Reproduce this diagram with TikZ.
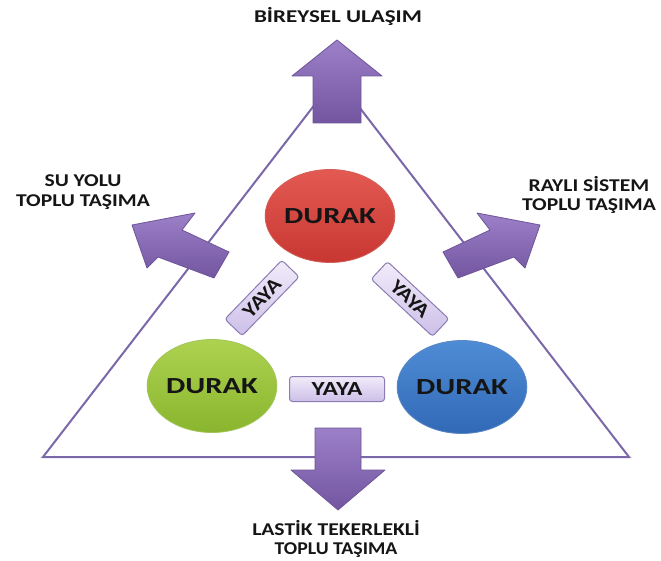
\documentclass[tikz,border=0pt]{standalone}
\usepackage{fontspec}
\setmainfont{Carlito}
\usetikzlibrary{shapes.geometric}
\definecolor{triline}{HTML}{7A68A8}
\definecolor{arrtop}{HTML}{9C80C8}
\definecolor{arrbot}{HTML}{7355A0}
\definecolor{arredge}{HTML}{6E5598}
\definecolor{redtop}{HTML}{E35A53}
\definecolor{redbot}{HTML}{C83731}
\definecolor{grntop}{HTML}{ADD250}
\definecolor{grnbot}{HTML}{8AB52E}
\definecolor{blutop}{HTML}{4F8CD6}
\definecolor{blubot}{HTML}{3169B6}
\definecolor{yayatop}{HTML}{F1ECFA}
\definecolor{yayabot}{HTML}{CDBFE8}
\definecolor{yayaedge}{HTML}{8C7CB4}
\definecolor{txt}{HTML}{151515}
\newcommand{\wtxt}[2]{\scalebox{#1}[1]{#2}}
\tikzset{
  tri/.style={draw=triline, line width=2pt, line join=miter},
  bigarrow/.style={top color=arrtop, bottom color=arrbot, draw=arredge, line width=0.8pt, line join=round},
  durak/.style={ellipse, minimum width=117pt, minimum height=93pt, inner sep=0pt, draw=#1bot!80!white, line width=0.8pt, top color=#1top, bottom color=#1bot, text=txt, font=\fontsize{23}{25}\selectfont\bfseries},
  yaya/.style={rectangle, rounded corners=3pt, draw=yayaedge, line width=1pt, top color=yayatop, bottom color=yayabot, inner sep=0pt, text=txt, font=\fontsize{20}{22}\selectfont\bfseries},
  lab/.style={align=center, text=txt, font=\fontsize{18}{19.5}\selectfont\bfseries, inner sep=0pt}
}
\begin{document}
\begin{tikzpicture}[x=1pt,y=-1pt]
\useasboundingbox (0,0) rectangle (661,561);
\fill[white] (0,0) rectangle (661,561);

% triangle
\coordinate (apex) at (336,77);
\coordinate (bl) at (43,457);
\coordinate (br) at (629,457);
\draw[tri] (apex) -- (bl) -- (br) -- cycle;

% top arrow
\shade[bigarrow] (337,40) -- (382,76) -- (361,76) -- (361,123) -- (313,123) -- (313,76) -- (292,76) -- cycle;
% bottom arrow
\shade[bigarrow] (338,510) -- (385,470) -- (361,470) -- (361,428) -- (315,428) -- (315,470) -- (291,470) -- cycle;
% left arrow
\shade[bigarrow] (132,225) -- (195,213) -- (182,230) -- (229,252) -- (214,278) -- (158,257) -- (147,268) -- cycle;
% right arrow
\shade[bigarrow] (540,225) -- (477,213) -- (490,230) -- (443,252) -- (458,278) -- (514,257) -- (525,268) -- cycle;

% stops
\node[durak=red] (dred) at (330,216) {\wtxt{1.33}{DURAK}};
\node[durak=grn] (dgrn) at (212,386) {\wtxt{1.33}{DURAK}};
\node[durak=blu] (dblu) at (462,387) {\wtxt{1.33}{DURAK}};

% pedestrian links
\node[yaya, minimum width=95pt, minimum height=25pt] (ybot) at (337,389) {\wtxt{1.27}{YAYA}};
\node[yaya, minimum width=82pt, minimum height=24pt, rotate=46] (yleft) at (262,298) {\wtxt{1.15}{YAYA}};
\node[yaya, minimum width=84pt, minimum height=24pt, rotate=-43] (yright) at (410,299) {\wtxt{1.15}{YAYA}};

% labels
\node[lab] (ltop) at (338,16) {\wtxt{1.28}{BİREYSEL ULAŞIM}};
\node[lab] (lleft) at (83,192) {\wtxt{1.2}{SU YOLU}\\\wtxt{1.2}{TOPLU TAŞIMA}};
\node[lab] (lright) at (589,195) {\wtxt{1.2}{RAYLI SİSTEM}\\\wtxt{1.2}{TOPLU TAŞIMA}};
\node[lab] (lbot) at (336,539) {\wtxt{1.2}{LASTİK TEKERLEKLİ}\\\wtxt{1.1}{TOPLU TAŞIMA}};
\end{tikzpicture}
\end{document}
